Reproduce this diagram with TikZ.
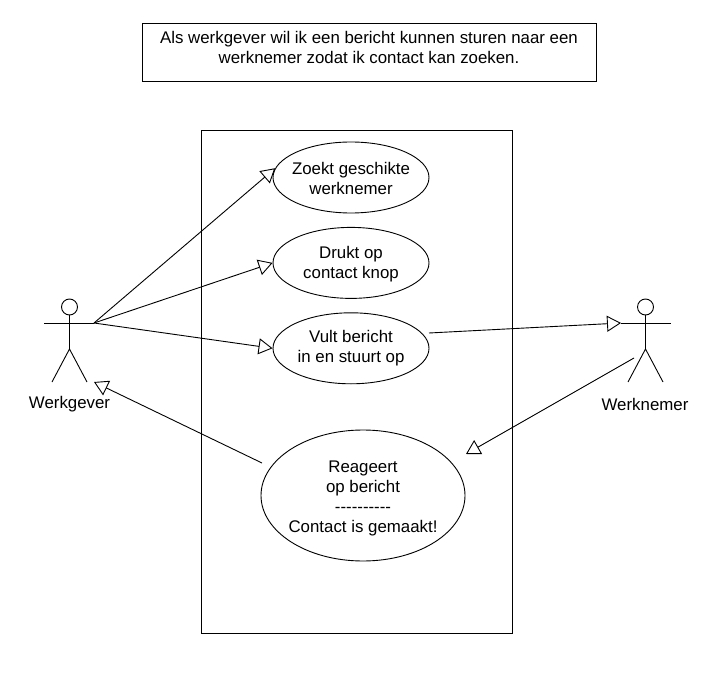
\documentclass[tikz,border=0pt]{standalone}
\usepackage{fontspec}
\setmainfont{Liberation Sans}
\usetikzlibrary{shapes.geometric, arrows.meta, positioning}

\begin{document}
\begin{tikzpicture}[x=1pt, y=-1pt, line width=0.9pt, node distance=13.5pt,
        every node/.style={font=\fontsize{16.85}{20}\selectfont, align=center},
        usecase/.style={draw, ellipse, inner xsep=-15pt, inner ysep=0pt, minimum width=156pt, minimum height=71pt},
        inherit/.style={-{Triangle[open, length=14pt, width=16pt]}}]
        \useasboundingbox (0,0) rectangle (709,684);

        \node (story) [draw, minimum width=454pt, minimum height=58pt, inner sep=0pt] at (369,52) {Als werkgever wil ik een bericht kunnen sturen naar een\\werknemer zodat ik contact kan zoeken.\rule[-9pt]{0pt}{1pt}};
        \node (system) [draw, minimum width=311pt, minimum height=503pt, inner sep=0pt] at (356.5,381.5) {};

        \node (zoekt) [usecase] at (351,177.5) {\rule{0pt}{14pt}Zoekt geschikte\\werknemer};
        \node (drukt) [usecase, below=of zoekt] {\rule{0pt}{14pt}Drukt op\\contact knop};
        \node (vult) [usecase, below=of drukt] {Vult bericht\\in en stuurt op};
        \node (reageert) [usecase, minimum width=204pt, minimum height=131pt] at (363,495.5) {\rule{0pt}{18pt}Reageert\\op bericht\\-{}-{}-{}-{}-{}-{}-{}-{}-{}-\\Contact is gemaakt!};

        % werkgever
        \node (geverhead) [draw, circle, inner sep=0pt, minimum size=16pt] at (69.5,307) {};
        \coordinate (geverleft) at (44,323);
        \coordinate (geverright) at (94,323);
        \coordinate (geverhip) at (69.5,349);
        \coordinate (geverfootl) at (52,382);
        \coordinate (geverfootr) at (87,382);
        \coordinate (gevertip) at (94,382);
        \node (gever) at (69.5,404) {Werkgever};
        \draw (geverhead) -- (geverhip);
        \draw (geverleft) -- (geverright);
        \draw (geverfootl) -- (geverhip) -- (geverfootr);

        % werknemer
        \node (nemerhead) [draw, circle, inner sep=0pt, minimum size=16pt] at (645.5,307) {};
        \coordinate (nemerleft) at (621,323);
        \coordinate (nemerright) at (671,323);
        \coordinate (nemerhip) at (645.5,349);
        \coordinate (nemerfootl) at (628,382);
        \coordinate (nemerfootr) at (663,382);
        \coordinate (nemerfrom) at (634,358);
        \coordinate (nemertip) at (466,454);
        \node (nemer) at (645,404) {Werknemer};
        \draw (nemerhead) -- (nemerhip);
        \draw (nemerleft) -- (nemerright);
        \draw (nemerfootl) -- (nemerhip) -- (nemerfootr);

        \coordinate (reageertfrom) at (262,463);
        \coordinate (vultfrom) at (429,333);

        \draw[inherit] (geverright) -- (zoekt.173);
        \draw[inherit] (geverright) -- (drukt.180);
        \draw[inherit] (geverright) -- (vult.180);
        \draw[inherit] (vultfrom) -- (nemerleft);
        \draw[inherit] (nemerfrom) -- (nemertip);
        \draw[inherit] (reageertfrom) -- (gevertip);
    \end{tikzpicture}
\end{document}
